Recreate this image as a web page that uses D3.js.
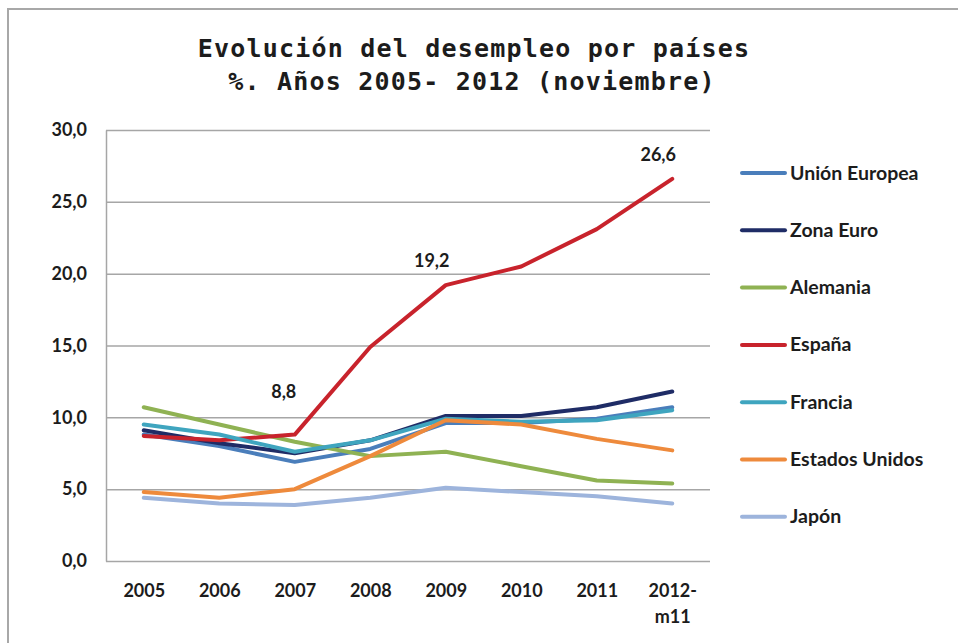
<!DOCTYPE html>
<html>
<head>
<meta charset="utf-8">
<script src="https://cdn.jsdelivr.net/npm/d3@7/dist/d3.min.js"></script>
<style>
body { margin: 0; background: #fff; }
svg text { font-family: Lato, 'Open Sans', sans-serif; font-weight: bold; fill: #1c1c1c; }
svg text.titulo { font-family: 'DejaVu Sans Mono', monospace; font-size: 25px; letter-spacing: 1.2px; }
</style>
</head>
<body>
<svg id="grafico" width="958" height="643"></svg>
<script>
// datos (% desempleo)
var anios = ['2005', '2006', '2007', '2008', '2009', '2010', '2011', '2012-m11'];
var union_europea = [8.8, 8.0, 6.9, 7.8, 9.6, 9.6, 9.9, 10.7];
var zona_euro = [9.1, 8.2, 7.5, 8.4, 10.1, 10.1, 10.7, 11.8];
var alemania = [10.7, 9.5, 8.3, 7.3, 7.6, 6.6, 5.6, 5.4];
var espana = [8.7, 8.4, 8.8, 14.9, 19.2, 20.5, 23.1, 26.6];
var francia = [9.5, 8.8, 7.6, 8.4, 9.9, 9.7, 9.8, 10.5];
var estados_unidos = [4.8, 4.4, 5.0, 7.3, 9.8, 9.5, 8.5, 7.7];
var japon = [4.4, 4.0, 3.9, 4.4, 5.1, 4.8, 4.5, 4.0];
var ticks_y = [0, 5, 10, 15, 20, 25, 30];

var nombres = ['Unión Europea', 'Zona Euro', 'Alemania', 'España', 'Francia', 'Estados Unidos', 'Japón'];
var colores = ['#4a7ebb', '#1f2c66', '#8fb253', '#c8232c', '#3fa5bf', '#ee8a3c', '#9db4dc'];
var series = [union_europea, zona_euro, alemania, espana, francia, estados_unidos, japon];

// etiquetas de valor (solo España)
var etiquetas_idx = [2, 4, 7];

var svg = d3.select('#grafico');

var x = d3.scalePoint().domain(anios).range([106, 710]).padding(0.5);
var y = d3.scaleLinear().domain([0, 30]).range([561, 130]);

var coma = function(d) { return d3.format('.1f')(d).replace('.', ','); };

// borde exterior
svg.append('path')
    .attr('d', 'M8,643V9H958')
    .attr('fill', 'none')
    .attr('stroke', '#a8a8a8')
    .attr('stroke-width', 2);

// titulo
svg.append('text').attr('class', 'titulo')
    .attr('x', 474).attr('y', 57).attr('text-anchor', 'middle')
    .text('Evolución del desempleo por países');
svg.append('text').attr('class', 'titulo')
    .attr('x', 472).attr('y', 90).attr('text-anchor', 'middle')
    .text('%. Años 2005- 2012 (noviembre)');

// eje y con lineas de division
var ejeY = svg.append('g')
    .attr('transform', 'translate(106,0)')
    .call(d3.axisLeft(y).tickValues(ticks_y).tickFormat(coma)
        .tickSizeInner(-604).tickSizeOuter(0).tickPadding(19));
ejeY.selectAll('.tick line').attr('stroke', '#a6a6a6').attr('stroke-width', 1.5);
ejeY.select('.domain').attr('stroke', '#a6a6a6').attr('stroke-width', 1.5);
ejeY.selectAll('text').attr('font-size', 18);

// eje x
var ejeX = svg.append('g')
    .attr('transform', 'translate(0,561)')
    .call(d3.axisBottom(x).tickSize(0).tickPadding(23));
ejeX.select('.domain').remove();
ejeX.selectAll('text').attr('font-size', 18).each(function(d) {
    var partes = d.split('-');
    if (partes.length > 1) {
        var t = d3.select(this).text('');
        t.append('tspan').attr('x', 0).text(partes[0] + '-');
        t.append('tspan').attr('x', 0).attr('dy', '1.45em').text(partes[1]);
    }
});

// lineas
var linea = d3.line()
    .x(function(d, i) { return x(anios[i]); })
    .y(function(d) { return y(d); });

svg.append('g').selectAll('path')
    .data(series)
    .join('path')
    .attr('d', linea)
    .attr('fill', 'none')
    .attr('stroke', function(d, i) { return colores[i]; })
    .attr('stroke-width', 4)
    .attr('stroke-linejoin', 'round')
    .attr('stroke-linecap', 'round');

// valores de España
svg.append('g').selectAll('text')
    .data(etiquetas_idx)
    .join('text')
    .attr('x', function(i) { return x(anios[i]) - (i == 2 ? 11 : 14); })
    .attr('y', function(i) { return y(espana[i]) - (i == 2 ? 37 : 18); })
    .attr('text-anchor', 'middle')
    .attr('font-size', 18)
    .text(function(i) { return coma(espana[i]); });

// leyenda
var leyenda = svg.append('g').selectAll('g')
    .data(nombres)
    .join('g')
    .attr('transform', function(d, i) { return 'translate(742,' + (173 + i * 57.3) + ')'; });

leyenda.append('line')
    .attr('x1', 0).attr('x2', 43)
    .attr('stroke', function(d, i) { return colores[i]; })
    .attr('stroke-width', 4)
    .attr('stroke-linecap', 'round');

leyenda.append('text')
    .attr('x', 48).attr('y', 6.5)
    .attr('font-size', 19.5)
    .text(function(d) { return d; });
</script>
</body>
</html>
